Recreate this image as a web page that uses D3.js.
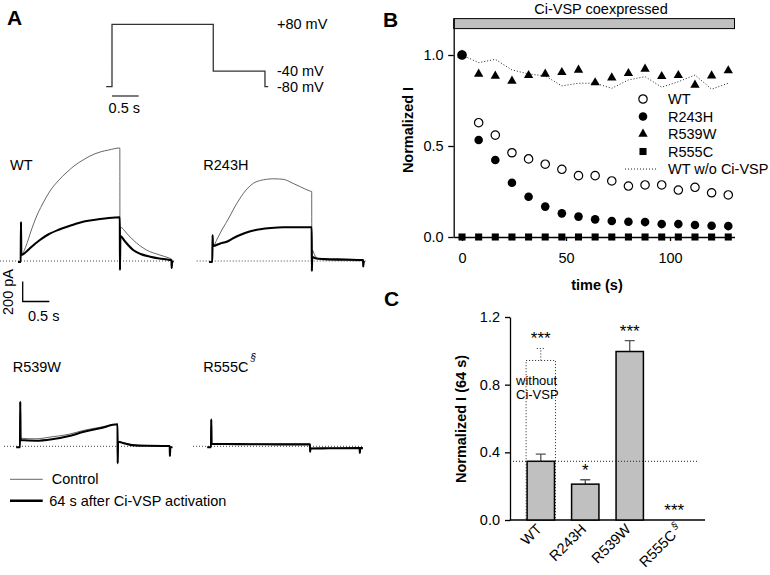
<!DOCTYPE html>
<html>
<head>
<meta charset="utf-8">
<script src="https://cdn.jsdelivr.net/npm/d3@7"></script>
<style>
body { margin: 0; background: #fff; }
svg { font-family: "Liberation Sans", Arial, sans-serif; }
</style>
</head>
<body>
<div id="fig"></div>
<script>
//////////// DATA ////////////

// panel A - voltage protocol (time in s, level in mV)
var protoTimes  = [-0.11, 0, 1.9, 2.87, 2.93];
var protoLevels = [-80, 80, -40, -80, -80];
var protoLabels = ["+80 mV", "-40 mV", "-80 mV"];
var protoLabelLevels = [80, -40, -80];

// panel A - current traces, [time s, current pA]
var traceNames = ["WT", "R243H", "R539W", "R555C"];
var wtControl = [[-0.05,-10],[0,-10],[0.005,390],[0.012,60],[0.1,150],[0.2,310],[0.3,450],[0.4,560],[0.55,700],[0.7,800],[0.87,890],[1.0,950],[1.17,1010],[1.3,1050],[1.49,1090],[1.65,1110],[1.86,1130],[1.862,-90],[1.87,337],[2.0,270],[2.11,210],[2.36,110],[2.61,60],[2.8,27],[2.83,20],[2.832,-70],[2.84,-5],[2.87,-5]];
var wt64 = [[-0.05,-10],[0,-10],[0.005,390],[0.012,60],[0.1,90],[0.2,140],[0.36,210],[0.5,260],[0.7,310],[0.87,343],[1.0,365],[1.17,393],[1.3,405],[1.49,420],[1.65,430],[1.86,437],[1.862,-90],[1.87,250],[1.95,200],[2.11,110],[2.25,70],[2.43,43],[2.6,25],[2.8,10],[2.83,5],[2.832,-70],[2.84,-5],[2.87,-5]];
var r243hControl = [[-0.06,-10],[0,-10],[0.005,260],[0.012,150],[0.1,230],[0.2,330],[0.3,420],[0.4,520],[0.52,627],[0.65,720],[0.77,777],[0.9,805],[1.02,817],[1.15,822],[1.33,817],[1.5,780],[1.65,743],[1.83,700],[1.865,695],[1.867,-100],[1.875,110],[1.92,60],[1.98,25],[2.1,10],[2.4,5],[2.82,3],[2.83,3],[2.832,-55],[2.84,-10],[2.86,-10]];
var r243h64 = [[-0.06,-10],[0,-10],[0.005,260],[0.012,150],[0.15,175],[0.27,193],[0.4,230],[0.52,260],[0.7,295],[0.9,317],[1.1,330],[1.33,337],[1.6,337],[1.865,337],[1.867,-100],[1.875,40],[1.95,25],[2.1,20],[2.5,15],[2.82,10],[2.83,10],[2.832,-55],[2.84,-10],[2.86,-10]];
var r539wControl = [[-0.07,-10],[0,-10],[0.005,446],[0.012,80],[0.3,75],[0.6,95],[0.9,118],[1.2,160],[1.5,190],[1.83,220],[1.832,-170],[1.84,50],[1.95,35],[2.1,15],[2.4,5],[2.8,3],[2.81,3],[2.812,-97],[2.82,-10],[2.86,-10]];
var r539w64 = [[-0.07,-10],[0,-10],[0.005,446],[0.012,63],[0.3,55],[0.6,70],[0.9,100],[1.2,145],[1.5,180],[1.83,220],[1.832,-170],[1.84,46],[1.95,30],[2.1,12],[2.4,5],[2.8,3],[2.81,3],[2.812,-97],[2.82,-10],[2.86,-10]];
var r555cControl = [[-0.07,-10],[0,-10],[0.005,270],[0.012,28],[0.5,25],[1.0,24],[1.5,22],[1.857,22],[1.859,-54],[1.867,-20],[2.2,-18],[2.79,-15],[2.792,-67],[2.8,-15],[2.85,-15]];
var r555c64 = [[-0.07,-10],[0,-10],[0.005,270],[0.012,23],[0.5,22],[1.0,20],[1.5,19],[1.857,19],[1.859,-54],[1.867,-22],[2.2,-20],[2.79,-18],[2.792,-67],[2.8,-18],[2.85,-18]];
var controlTraces = [wtControl, r243hControl, r539wControl, r555cControl];
var activatedTraces = [wt64, r243h64, r539w64, r555c64];
var traceLegend = ["Control", "64 s after Ci-VSP activation"];

// panel B - normalized current vs time
var timeB   = [0, 8, 16, 24, 32, 40, 48, 56, 64, 72, 80, 88, 96, 104, 112, 120, 128];
var wtB     = [1.0, 0.628, 0.56, 0.463, 0.429, 0.40, 0.372, 0.337, 0.337, 0.308, 0.28, 0.286, 0.286, 0.258, 0.273, 0.243, 0.231];
var r243hB  = [1.0, 0.533, 0.423, 0.298, 0.221, 0.167, 0.13, 0.112, 0.097, 0.088, 0.084, 0.082, 0.071, 0.071, 0.066, 0.062, 0.06];
var r539wB  = [1.0, 0.896, 0.885, 0.857, 0.888, 0.896, 0.905, 0.918, 0.848, 0.875, 0.899, 0.923, 0.883, 0.888, 0.835, 0.886, 0.914];
var r555cB  = [0, 0, 0, 0, 0, 0, 0, 0, 0, 0, 0, 0, 0, 0, 0, 0, 0];
var wtNoVspB = [1.0, 0.958, 0.976, 0.918, 0.896, 0.885, 0.83, 0.845, 0.845, 0.817, 0.863, 0.881, 0.823, 0.853, 0.89, 0.812, 0.845];
var legendB = ["WT", "R243H", "R539W", "R555C", "WT w/o Ci-VSP"];
var yTicksB = [0, 0.5, 1.0];
var xTicksB = [0, 50, 100];

// panel C - normalized current at 64 s
var barCats  = ["WT", "R243H", "R539W", "R555C"];
var barMeans = [0.347, 0.212, 0.996, 0];
var barErrTop = [0.39, 0.238, 1.06, 0];
var noVspMean = 0.943;
var noVspErrTop = 1.014;
var sigLabels = ["***", "*", "***", "***"];
var yTicksC = [0, 0.4, 0.8, 1.2];

//////////// LAYOUT ////////////
var W = 770, H = 575;
var grey = "#c0c0c0";
var fs = 14.5;

var svg = d3.select("#fig").append("svg")
    .attr("width", W)
    .attr("height", H);

svg.append("rect").attr("width", W).attr("height", H).attr("fill", "#fff");

// panel letters
svg.append("text").attr("x", 7).attr("y", 25).attr("font-size", 21).attr("font-weight", "bold").text("A");
svg.append("text").attr("x", 383).attr("y", 27).attr("font-size", 21).attr("font-weight", "bold").text("B");
svg.append("text").attr("x", 384).attr("y", 306).attr("font-size", 21).attr("font-weight", "bold").text("C");

////////// panel A: protocol //////////
var tPx = d3.scaleLinear().domain([0, 1]).range([0, 53.3]);   // s -> px
var protoX = function(t) { return 112 + tPx(t); };
var protoY = d3.scaleLinear().domain([-80, 80]).range([86.7, 24.3]);

var protoLine = d3.line()
    .x(function(d, i) { return protoX(protoTimes[i]); })
    .y(function(d) { return protoY(d); })
    .curve(d3.curveStepAfter);

svg.append("path")
    .datum(protoLevels)
    .attr("d", protoLine)
    .attr("fill", "none")
    .attr("stroke", "#333")
    .attr("stroke-width", 1.3);

svg.selectAll(".protoLabel")
    .data(protoLabels)
    .enter()
    .append("text")
    .attr("class", "protoLabel")
    .attr("x", 277)
    .attr("y", function(d, i) { return protoY(protoLabelLevels[i]) + 5; })
    .attr("font-size", fs)
    .text(function(d) { return d; });

// 0.5 s scale bar under protocol
svg.append("line")
    .attr("x1", protoX(0)).attr("x2", protoX(0.5))
    .attr("y1", 96).attr("y2", 96)
    .attr("stroke", "#333").attr("stroke-width", 1.3);
svg.append("text")
    .attr("x", (protoX(0) + protoX(0.5)) / 2 - 1).attr("y", 113)
    .attr("text-anchor", "middle").attr("font-size", fs)
    .text("0.5 s");

////////// panel A: traces //////////
var iPx = d3.scaleLinear().domain([0, 200]).range([0, -20]);  // pA -> px (up)

var traceLayout = [
  {x0: 20.7, base: 261,   lx: 10,    ly: 170, dot: [-20.7, 149]},
  {x0: 212.3, base: 261,  lx: 203.3, ly: 170, dot: [-15.6, 154]},
  {x0: 20,   base: 446.3, lx: 12.7,  ly: 372, dot: [-16, 152]},
  {x0: 211,  base: 446.3, lx: 203.3, ly: 372, dot: [-18, 152]}
];

var traceLine = d3.line()
    .x(function(d) { return tPx(d[0]); })
    .y(function(d) { return iPx(d[1]); })
    .curve(d3.curveMonotoneX);

traceNames.forEach(function(name, k) {
  var L = traceLayout[k];
  var g = svg.append("g")
      .attr("transform", "translate(" + L.x0 + "," + L.base + ")");

  g.append("line")
      .attr("x1", L.dot[0]).attr("x2", L.dot[1])
      .attr("y1", 0).attr("y2", 0)
      .attr("stroke", "#444").attr("stroke-width", 1)
      .attr("stroke-dasharray", "1,2");

  g.append("path")
      .datum(controlTraces[k])
      .attr("d", traceLine)
      .attr("fill", "none")
      .attr("stroke", "#555")
      .attr("stroke-width", 0.9);

  g.append("path")
      .datum(activatedTraces[k])
      .attr("d", traceLine)
      .attr("fill", "none")
      .attr("stroke", "#000")
      .attr("stroke-width", 2.1);

  var lab = svg.append("text")
      .attr("x", L.lx).attr("y", L.ly)
      .attr("font-size", fs)
      .text(name);
  if (name == "R555C") {
    lab.append("tspan")
      .attr("dx", 2).attr("dy", -11)
      .attr("font-size", 10).attr("font-style", "italic")
      .text("\u00a7");
  }
});

// 200 pA / 0.5 s scale bar
var sb = svg.append("g").attr("transform", "translate(22.7,301.5)");
sb.append("path")
    .attr("d", "M0," + iPx(200) + "V0H" + tPx(0.5))
    .attr("fill", "none").attr("stroke", "#000").attr("stroke-width", 1.3);
svg.append("text")
    .attr("transform", "translate(13,292) rotate(-90)")
    .attr("text-anchor", "middle").attr("font-size", fs)
    .text("200 pA");
svg.append("text")
    .attr("x", 28).attr("y", 321)
    .attr("font-size", fs)
    .text("0.5 s");

// trace legend
var tl = svg.selectAll(".traceLeg")
    .data(traceLegend)
    .enter()
    .append("g")
    .attr("class", "traceLeg")
    .attr("transform", function(d, i) { return "translate(10," + (479.3 + i * 21.4) + ")"; });
tl.append("line")
    .attr("x1", 0).attr("x2", 32.7)
    .attr("stroke", function(d, i) { return i == 0 ? "#666" : "#000"; })
    .attr("stroke-width", function(d, i) { return i == 0 ? 1 : 2.5; });
tl.append("text")
    .attr("x", function(d, i) { return i == 0 ? 41.7 : 39.3; })
    .attr("y", 5)
    .attr("font-size", fs)
    .text(function(d) { return d; });

////////// panel B //////////
var xB = d3.scaleLinear().domain([-4, 131]).range([453.7, 734.5]);
var yB = d3.scaleLinear().domain([0, 1.2]).range([237, 18.6]);

// grey "coexpressed" bar
svg.append("rect")
    .attr("x", xB(-4)).attr("y", yB(1.2))
    .attr("width", xB(131) - xB(-4)).attr("height", 10)
    .attr("fill", grey).attr("stroke", "#000").attr("stroke-width", 1);
svg.append("text")
    .attr("x", 601).attr("y", 14)
    .attr("text-anchor", "middle").attr("font-size", fs)
    .text("Ci-VSP coexpressed");

var yAxisB = svg.append("g")
    .attr("transform", "translate(" + xB(-4) + ",0)")
    .call(d3.axisLeft(yB).tickValues(yTicksB).tickFormat(d3.format(".1f"))
          .tickSize(5.5).tickPadding(4.5).tickSizeOuter(0));
var xAxisB = svg.append("g")
    .attr("transform", "translate(0," + yB(0) + ")")
    .call(d3.axisBottom(xB).tickValues(xTicksB).tickSize(4).tickPadding(12).tickSizeOuter(0));

[yAxisB, xAxisB].forEach(function(a) {
  a.selectAll("text").attr("font-size", fs).attr("font-family", null).attr("fill", "#000");
  a.selectAll("line,path").attr("stroke", "#000").attr("stroke-width", 1.3);
});

svg.append("text")
    .attr("transform", "translate(413,130) rotate(-90)")
    .attr("text-anchor", "middle").attr("font-size", fs).attr("font-weight", "bold")
    .text("Normalized I");
svg.append("text")
    .attr("x", 597).attr("y", 290)
    .attr("text-anchor", "middle").attr("font-size", fs).attr("font-weight", "bold")
    .text("time (s)");

// dotted WT w/o Ci-VSP
var lineB = d3.line()
    .x(function(d, i) { return xB(timeB[i]); })
    .y(function(d) { return yB(d); });
svg.append("path")
    .datum(wtNoVspB)
    .attr("d", lineB)
    .attr("fill", "none").attr("stroke", "#222")
    .attr("stroke-width", 1).attr("stroke-dasharray", "1,2");

var symSquare = d3.symbol().type(d3.symbolSquare).size(50);
var symTri = d3.symbol().type(d3.symbolTriangle).size(38);

function plotSymbols(vals, cls, draw) {
  var sel = svg.selectAll("." + cls)
      .data(vals)
      .enter()
      .append("g")
      .attr("class", cls)
      .attr("transform", function(d, i) { return "translate(" + xB(timeB[i]) + "," + yB(d) + ")"; });
  draw(sel);
}
plotSymbols(r555cB, "sqB", function(s) { s.append("path").attr("d", symSquare).attr("fill", "#000"); });
plotSymbols(r539wB, "triB", function(s) { s.append("path").attr("d", symTri).attr("fill", "#000"); });
plotSymbols(wtB, "openB", function(s) {
  s.append("circle").attr("r", 4.2).attr("fill", "#fff").attr("stroke", "#000").attr("stroke-width", 1.2);
});
plotSymbols(r243hB, "fillB", function(s) { s.append("circle").attr("r", 4.3).attr("fill", "#000"); });

// legend B
var lg = svg.selectAll(".legB")
    .data(legendB)
    .enter()
    .append("g")
    .attr("class", "legB")
    .attr("transform", function(d, i) { return "translate(643," + (99 + i * 17.5) + ")"; });
lg.each(function(d, i) {
  var g = d3.select(this);
  if (i == 0) g.append("circle").attr("r", 4.2).attr("fill", "#fff").attr("stroke", "#000").attr("stroke-width", 1.2);
  if (i == 1) g.append("circle").attr("r", 4.3).attr("fill", "#000");
  if (i == 2) g.append("path").attr("d", symTri).attr("fill", "#000");
  if (i == 3) g.append("path").attr("d", symSquare).attr("fill", "#000");
  if (i == 4) g.append("line").attr("x1", -18).attr("x2", 15)
      .attr("stroke", "#222").attr("stroke-dasharray", "1,2");
});
lg.append("text")
    .attr("x", 25).attr("y", 5)
    .attr("font-size", fs)
    .text(function(d) { return d; });

////////// panel C //////////
var xC = d3.scaleBand().domain(barCats).range([510, 705]).padding(0.385);
var yC = d3.scaleLinear().domain([0, 1.2]).range([520, 317]);

var yAxisC = svg.append("g")
    .attr("transform", "translate(510,0)")
    .call(d3.axisLeft(yC).tickValues(yTicksC).tickFormat(d3.format(".1f"))
          .tickSize(5).tickPadding(5).tickSizeOuter(0));
yAxisC.selectAll("text").attr("font-size", fs).attr("font-family", null).attr("fill", "#000");
yAxisC.selectAll("line,path").attr("stroke", "#000").attr("stroke-width", 1.3);

svg.append("line")
    .attr("x1", 510).attr("x2", 705)
    .attr("y1", yC(0)).attr("y2", yC(0))
    .attr("stroke", "#000").attr("stroke-width", 1.3);

svg.append("text")
    .attr("transform", "translate(466,419) rotate(-90)")
    .attr("text-anchor", "middle").attr("font-size", fs).attr("font-weight", "bold")
    .text("Normalized I (64 s)");

// dotted "without Ci-VSP" bar (WT)
var wtX = xC("WT"), bw = xC.bandwidth();
svg.append("rect")
    .attr("x", wtX - 1).attr("y", yC(noVspMean))
    .attr("width", bw + 2).attr("height", yC(0) - yC(noVspMean))
    .attr("fill", "none").attr("stroke", "#222").attr("stroke-width", 1)
    .attr("stroke-dasharray", "1,2");
svg.append("path")
    .attr("d", "M" + (wtX + bw / 2) + "," + yC(noVspMean) + "V" + yC(noVspErrTop) +
               "M" + (wtX + bw / 2 - 4) + "," + yC(noVspErrTop) + "H" + (wtX + bw / 2 + 4))
    .attr("fill", "none").attr("stroke", "#222").attr("stroke-width", 1)
    .attr("stroke-dasharray", "1,2");
svg.append("text").attr("x", 516).attr("y", 385).attr("font-size", 13).text("without");
svg.append("text").attr("x", 516).attr("y", 399).attr("font-size", 13).text("Ci-VSP");

// error bars then bars
svg.selectAll(".errC")
    .data(barCats)
    .enter()
    .append("path")
    .attr("class", "errC")
    .attr("d", function(d, i) {
      if (barMeans[i] == 0) return null;
      var cx = xC(d) + bw / 2;
      return "M" + cx + "," + yC(barMeans[i]) + "V" + yC(barErrTop[i]) +
             "M" + (cx - 5) + "," + yC(barErrTop[i]) + "H" + (cx + 5);
    })
    .attr("fill", "none").attr("stroke", "#555").attr("stroke-width", 1.3);

svg.selectAll(".barC")
    .data(barCats)
    .enter()
    .append("rect")
    .attr("class", "barC")
    .attr("x", function(d) { return xC(d); })
    .attr("y", function(d, i) { return yC(barMeans[i]); })
    .attr("width", bw)
    .attr("height", function(d, i) { return yC(0) - yC(barMeans[i]); })
    .attr("fill", grey)
    .attr("stroke", "#000").attr("stroke-width", function(d, i) { return barMeans[i] == 0 ? 0 : 1.5; });

// WT reference level
svg.append("line")
    .attr("x1", 510).attr("x2", 698)
    .attr("y1", yC(barMeans[0])).attr("y2", yC(barMeans[0]))
    .attr("stroke", "#222").attr("stroke-width", 1).attr("stroke-dasharray", "1,2");

// significance stars
svg.selectAll(".sigC")
    .data(sigLabels)
    .enter()
    .append("text")
    .attr("class", "sigC")
    .attr("x", function(d, i) { return xC(barCats[i]) + bw / 2; })
    .attr("y", function(d, i) {
      var top = i == 0 ? Math.max(barErrTop[i], noVspErrTop) : barErrTop[i];
      return yC(top) - 4;
    })
    .attr("text-anchor", "middle").attr("font-size", 17)
    .text(function(d) { return d; });

// rotated category labels
var cl = svg.selectAll(".catC")
    .data(barCats)
    .enter()
    .append("text")
    .attr("class", "catC")
    .attr("transform", function(d) {
      var cx = xC(d) + bw / 2 + (d == "R555C" ? 9 : 2);
      return "translate(" + cx + ",530) rotate(-45)";
    })
    .attr("text-anchor", "end").attr("font-size", fs)
    .text(function(d) { return d; });
cl.filter(function(d) { return d == "R555C"; })
    .append("tspan")
    .attr("dx", 3).attr("dy", -6)
    .attr("font-size", 10).attr("font-style", "italic")
    .text("\u00a7");
</script>
</body>
</html>
